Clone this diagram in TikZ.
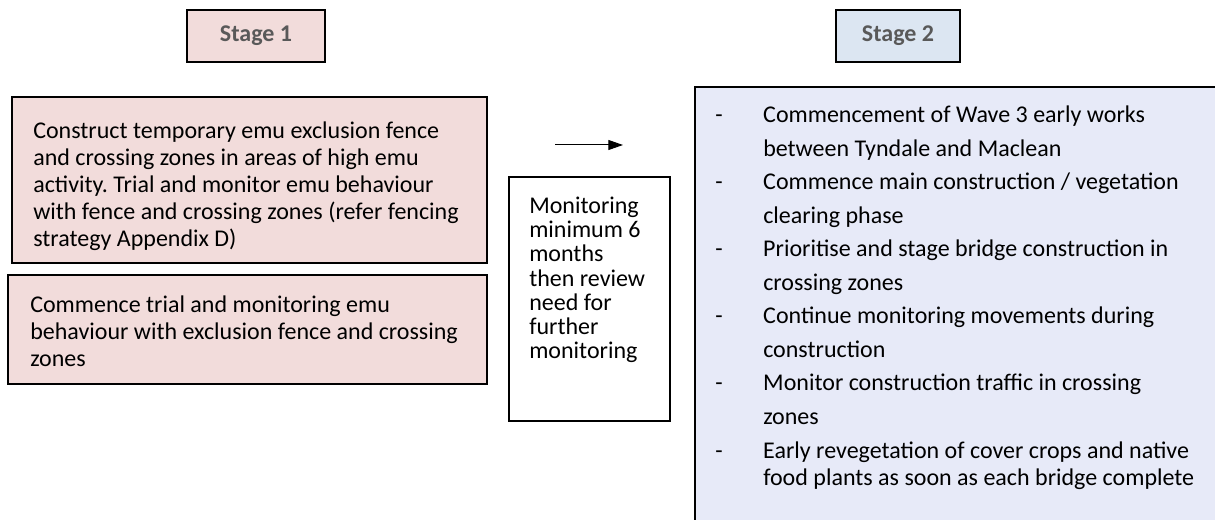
\documentclass[tikz,border=0pt]{standalone}
\usepackage{fontspec}
\setmainfont{Carlito}
\usepackage{xcolor}
\usetikzlibrary{arrows.meta,positioning}
\definecolor{stagepink}{HTML}{F2DCDB}
\definecolor{stageblue}{HTML}{DCE6F2}
\definecolor{planblue}{HTML}{E7EAF8}
\definecolor{headgrey}{HTML}{595959}
\newcommand{\dashitem}{\makebox[36pt][l]{-}}
\newcommand{\noitem}{\makebox[36pt][l]{}}
\frenchspacing

\begin{document}
\begin{tikzpicture}[x=0.75pt, y=0.75pt, >={Triangle[length=11pt, width=7.5pt]},
  panel/.style={rectangle, draw, line width=1pt, outer sep=0pt, inner sep=0pt,
                anchor=north west},
  head/.style={panel, minimum height=39pt, text=headgrey,
               font=\fontsize{18pt}{22pt}\selectfont\bfseries},
  body/.style={anchor=base west, inner sep=0pt, align=left}]
  \useasboundingbox (0,0) rectangle (1215,-520);

  % Stage headers
  \node[head, fill=stagepink, minimum width=103.5pt] (stage1) at (187,-10) {Stage 1};
  \node[head, fill=stageblue, minimum width=93pt] (stage2) at (836,-10) {Stage 2\hspace{9pt}};

  % Stage 1 panels (text is placed by the baseline of its last line)
  \node[panel, fill=stagepink, minimum width=356.25pt, minimum height=124.5pt] (fence)
    at (12,-97) {};
  \node[panel, fill=stagepink, minimum width=359.25pt, minimum height=81.75pt,
    below=9pt of fence.south west, anchor=north west, xshift=-3pt] (trial) {};
  \node[body, font=\fontsize{18pt}{20.25pt}\selectfont, xshift=15.75pt, yshift=-112.5pt]
    (fence text) at (fence.north west)
    {Construct temporary emu exclusion fence\\
     and crossing zones in areas of high emu\\
     activity. Trial and monitor emu behaviour\\
     with fence and crossing zones (refer fencing\\
     strategy Appendix D)};
  \node[body, font=\fontsize{18pt}{20.25pt}\selectfont, xshift=16.5pt, yshift=-69pt]
    (trial text) at (trial.north west)
    {Commence trial and monitoring emu\\
     behaviour with exclusion fence and crossing\\
     zones};

  % Monitoring period
  \node[panel, fill=white, minimum width=120.75pt, minimum height=183pt] (monitor)
    at (509,-177) {};
  \node[body, font=\fontsize{18pt}{18.2pt}\selectfont, xshift=15pt, yshift=-136.5pt]
    (monitor text) at (monitor.north west)
    {Monitoring\\ minimum 6\\ months\\ then review\\ need for\\ further\\ monitoring};

  % Stage 2 panel
  \node[panel, fill=planblue, minimum width=401.25pt, minimum height=332.25pt] (plan)
    at (695,-87) {};
  \node[body, font=\fontsize{18pt}{25.15pt}\selectfont, xshift=15pt, yshift=-298.5pt]
    (plan text) at (plan.north west)
    {\dashitem Commencement of Wave 3 early works\\
     \noitem between Tyndale and Maclean\\
     \dashitem Commence main construction / vegetation\\
     \noitem clearing phase\\
     \dashitem Prioritise and stage bridge construction in\\
     \noitem crossing zones\\
     \dashitem Continue monitoring movements during\\
     \noitem construction\\
     \dashitem Monitor construction traffic in crossing\\
     \noitem zones\\
     \dashitem Early revegetation of cover crops and native\\[-4.9pt]
     \noitem food plants as soon as each bridge complete};

  % Arrow
  \coordinate (arrow tail) at (555,-145);
  \coordinate (arrow tip) at (623,-145);
  \draw[->, line width=0.75pt] (arrow tail) -- (arrow tip);
\end{tikzpicture}
\end{document}
